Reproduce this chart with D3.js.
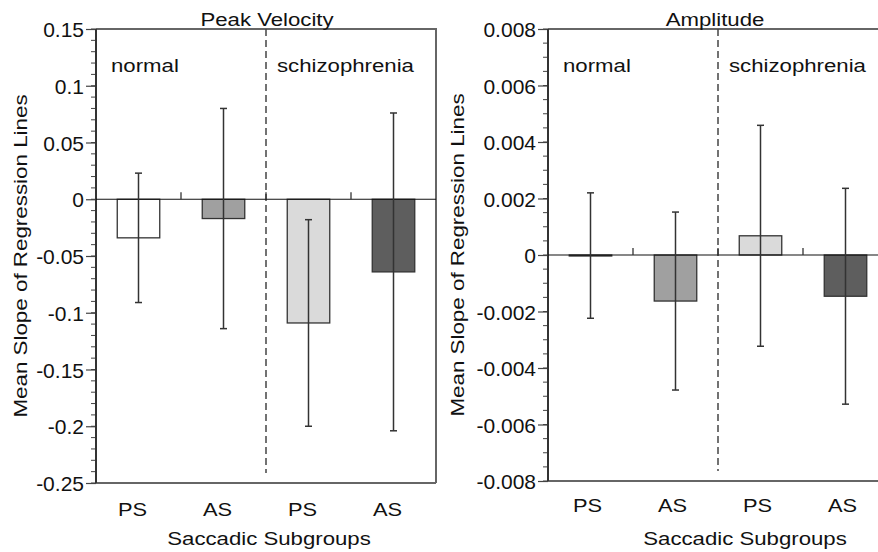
<!DOCTYPE html>
<html>
<head>
<meta charset="utf-8">
<script src="https://cdn.jsdelivr.net/npm/d3@7"></script>
<style>
  body { margin: 0; background: #fff; }
  svg { display: block; font-family: "Liberation Sans", Arial, sans-serif; }
</style>
</head>
<body>
<svg id="chart" width="878" height="552"></svg>
<script>
// data
var subgroups = ['PS', 'AS', 'PS', 'AS'],
	groups = ['normal', 'schizophrenia'],
	barFill = ['#ffffff', '#a0a0a0', '#dadada', '#5e5e5e'];

var pvMean = [-0.034, -0.017, -0.109, -0.064],
	pvSD = [0.057, 0.097, 0.091, 0.140],
	pvTicks = [0.15, 0.1, 0.05, 0, -0.05, -0.1, -0.15, -0.2, -0.25];

var ampMean = [-0.00002, -0.00163, 0.00068, -0.00146],
	ampSD = [0.00222, 0.00315, 0.00391, 0.00382],
	ampTicks = [0.008, 0.006, 0.004, 0.002, 0, -0.002, -0.004, -0.006, -0.008];

var svg = d3.select('#chart');

// stretched text, the original glyphs are wider than Arial
function label(g, x, y, txt, size, sx, anchor, rot) {
	return g.append('text')
		.attr('transform', 'translate(' + x + ',' + y + ')' + (rot ? ' rotate(' + rot + ')' : '') + ' scale(' + sx + ',1)')
		.attr('text-anchor', anchor || 'start')
		.style('font-size', size + 'px')
		.style('fill', '#111')
		.text(txt);
}

function panel(o) {
	var g = svg.append('g');
	var y = d3.scaleLinear().domain(o.domain).range([o.bottom, o.top]);
	var x = d3.scaleBand().domain(d3.range(4)).range([o.left, o.left + 340]);
	var bw = x.bandwidth() * 0.5;

	// minor ticks
	g.selectAll('line.minor')
		.data(d3.range(o.domain[0], o.domain[1] + o.minor / 2, o.minor))
		.enter().append('line')
		.attr('x1', o.left - 5).attr('x2', o.left)
		.attr('y1', function(d) { return y(d); })
		.attr('y2', function(d) { return y(d); })
		.style('stroke', '#444').style('stroke-width', 1);

	var axis = d3.axisLeft(y).tickValues(o.ticks).tickSize(10).tickPadding(2)
		.tickFormat(function(d) { return d === 0 ? '0' : d3.format(o.fmt)(d).replace('−', '-'); });
	var ax = g.append('g').attr('transform', 'translate(' + o.left + ',0)').call(axis);
	ax.select('.domain').remove();
	ax.selectAll('.tick line').style('stroke', '#444').style('stroke-width', 1.2);
	ax.selectAll('.tick text').style('font-size', '21px').style('fill', '#111')
		.style('font-family', '"Liberation Sans", Arial, sans-serif').attr('dy', '0.36em');

	// frame
	g.append('path')
		.attr('d', 'M' + (o.left + 340) + ',' + o.bottom + 'V' + o.top + 'H' + o.left)
		.style('fill', 'none').style('stroke', '#666').style('stroke-width', 2);
	g.append('line')
		.attr('x1', o.left).attr('x2', o.left + 340)
		.attr('y1', o.bottom).attr('y2', o.bottom)
		.style('stroke', '#666').style('stroke-width', 2);
	g.append('line')
		.attr('x1', o.left).attr('x2', o.left)
		.attr('y1', o.top).attr('y2', o.bottom)
		.style('stroke', '#333').style('stroke-width', 2);

	// group separator
	g.append('line')
		.attr('x1', x(2)).attr('x2', x(2))
		.attr('y1', o.top).attr('y2', o.bottom - 10)
		.style('stroke', '#444').style('stroke-width', 1.5)
		.style('stroke-dasharray', '7,4');

	// bars
	g.selectAll('rect.bar')
		.data(o.mean)
		.enter().append('rect')
		.attr('x', function(d, i) { return x(i) + (x.bandwidth() - bw) / 2; })
		.attr('y', function(d) { return y(Math.max(0, d)); })
		.attr('width', bw)
		.attr('height', function(d) { return Math.max(1, Math.abs(y(d) - y(0))); })
		.style('fill', function(d, i) { return barFill[i]; })
		.style('stroke', '#333').style('stroke-width', 1.3);

	// zero line with boundary ticks
	g.append('line')
		.attr('x1', o.left).attr('x2', o.left + 340)
		.attr('y1', y(0)).attr('y2', y(0))
		.style('stroke', '#111').style('stroke-width', 1.2);
	g.selectAll('line.xt')
		.data([1, 2, 3])
		.enter().append('line')
		.attr('x1', function(d) { return x(d); })
		.attr('x2', function(d) { return x(d); })
		.attr('y1', y(0)).attr('y2', y(0) - 7)
		.style('stroke', '#333').style('stroke-width', 1.3);

	// error bars
	var eb = g.selectAll('g.eb')
		.data(o.mean)
		.enter().append('g');
	eb.append('line')
		.attr('x1', function(d, i) { return x(i) + x.bandwidth() / 2; })
		.attr('x2', function(d, i) { return x(i) + x.bandwidth() / 2; })
		.attr('y1', function(d, i) { return y(d + o.sd[i]); })
		.attr('y2', function(d, i) { return y(d - o.sd[i]); })
		.style('stroke', '#333').style('stroke-width', 1.5);
	[1, -1].forEach(function(s) {
		eb.append('line')
			.attr('x1', function(d, i) { return x(i) + x.bandwidth() / 2 - 3.5; })
			.attr('x2', function(d, i) { return x(i) + x.bandwidth() / 2 + 3.5; })
			.attr('y1', function(d, i) { return y(d + s * o.sd[i]); })
			.attr('y2', function(d, i) { return y(d + s * o.sd[i]); })
			.style('stroke', '#333').style('stroke-width', 1.5);
	});

	// texts
	subgroups.forEach(function(s, i) {
		label(g, x(i) + x.bandwidth() / 2 + o.xlabShift, o.xlabY, s, 18.5, 1.18, 'middle');
	});
	label(g, o.left + 15, 72, groups[0], 18.5, 1.2);
	label(g, x(2) + 11, 72, groups[1], 18.5, 1.2);
	label(g, o.titleX, 26, o.title, 18.5, 1.2, 'middle');
	label(g, o.xtitleX, 545, 'Saccadic Subgroups', 18.5, 1.2, 'middle');
	label(g, o.ylabX, (o.top + o.bottom) / 2, 'Mean Slope of Regression Lines', 18.5, 1.21, 'middle', -90);
}

panel({ left: 96, top: 29, bottom: 483, domain: [-0.25, 0.15], minor: 0.01,
	ticks: pvTicks, fmt: '.2~f', mean: pvMean, sd: pvSD, title: 'Peak Velocity',
	titleX: 267, xtitleX: 269, ylabX: 27, xlabY: 516, xlabShift: -6 });
panel({ left: 548, top: 29, bottom: 481, domain: [-0.008, 0.008], minor: 0.0005,
	ticks: ampTicks, fmt: '.3f', mean: ampMean, sd: ampSD, title: 'Amplitude',
	titleX: 715, xtitleX: 745, ylabX: 464, xlabY: 512, xlabShift: -3 });
</script>
</body>
</html>
